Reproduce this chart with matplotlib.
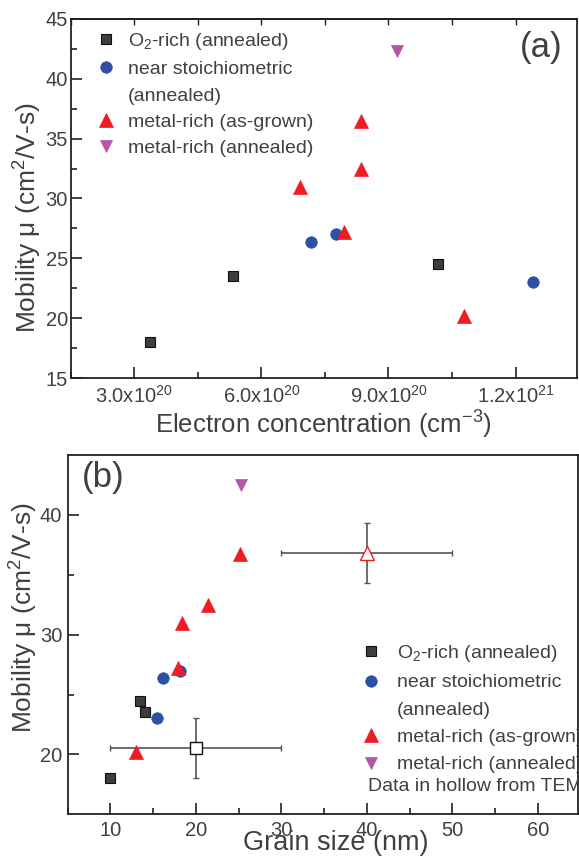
import matplotlib
matplotlib.use('Agg')
import matplotlib.pyplot as plt
from matplotlib.lines import Line2D
from matplotlib.ticker import FixedLocator, MultipleLocator, FixedFormatter
import numpy as np

# ---------------- data ----------------
# panel (a): mobility vs electron concentration
a_o2_x = [3.37e20, 5.33e20, 10.18e20]
a_o2_y = [18.0, 23.5, 24.5]
a_ns_x = [7.16e20, 7.76e20, 12.4e20]
a_ns_y = [26.4, 27.0, 23.0]
a_mr_x = [6.92e20, 8.35e20, 8.35e20, 7.96e20, 10.79e20]
a_mr_y = [31.0, 36.5, 32.5, 27.2, 20.2]
a_mra_x = [9.2e20]
a_mra_y = [42.3]
a_xticks = [3.0e20, 6.0e20, 9.0e20, 1.2e21]
a_xtick_labels = [r'3.0x10$^{20}$', r'6.0x10$^{20}$', r'9.0x10$^{20}$', r'1.2x10$^{21}$']

# panel (b): mobility vs grain size
b_o2_x = [9.9, 13.5, 14.0]
b_o2_y = [18.0, 24.5, 23.5]
b_ns_x = [16.2, 18.1, 15.5]
b_ns_y = [26.4, 27.0, 23.0]
b_mr_x = [13.0, 17.9, 18.4, 21.4, 25.1]
b_mr_y = [20.2, 27.2, 31.0, 32.5, 36.7]
b_mra_x = [25.3]
b_mra_y = [42.5]
# hollow (TEM) data with error bars
tem_sq_x, tem_sq_y, tem_sq_xerr, tem_sq_yerr = [20.0], [20.5], [10.0], [2.5]
tem_tri_x, tem_tri_y, tem_tri_xerr, tem_tri_yerr = [40.0], [36.8], [10.0], [2.5]

labels = ['O$_2$-rich (annealed)', 'near stoichiometric', '(annealed)',
          'metal-rich (as-grown)', 'metal-rich (annealed)']

# ---------------- style ----------------
plt.rcParams.update({
    'font.family': ['Liberation Sans', 'DejaVu Sans'],
    'mathtext.fontset': 'custom',
    'mathtext.rm': 'Liberation Sans',
    'mathtext.it': 'Liberation Sans:italic',
    'mathtext.bf': 'Liberation Sans:bold',
    'text.color': '#404040',
    'axes.labelcolor': '#404040',
    'axes.edgecolor': '#222222',
    'axes.linewidth': 1.3,
    'xtick.color': '#222222',
    'ytick.color': '#222222',
    'xtick.labelcolor': '#404040',
    'ytick.labelcolor': '#404040',
})

C_SQ = '#3d3d3d'
C_NS = '#2d4fa5'
C_MR = '#ee1c25'
C_MA = '#b456a8'

sq_kw = dict(marker='s', ms=7.3, mfc=C_SQ, mec='#111111', mew=0.8, ls='none')
ns_kw = dict(marker='o', ms=8.3, mfc=C_NS, mec=C_NS, mew=0.5, ls='none')
mr_kw = dict(marker='^', ms=9.8, mfc=C_MR, mec=C_MR, mew=0.5, ls='none')
ma_kw = dict(marker='v', ms=8.8, mfc=C_MA, mec=C_MA, mew=0.5, ls='none')

W, H = 579.0, 857.0
fig = plt.figure(figsize=(5.79, 8.57), dpi=100)
ax1 = fig.add_axes([70.7 / W, 1 - 378 / H, (577 - 70.7) / W, (378 - 19) / H])
ax2 = fig.add_axes([67.7 / W, 1 - 814.3 / H, (578 - 67.7) / W, (814.3 - 455) / H])

TICK_FS = 14.5
LEG_FS = 14

# ---------------- panel (a) ----------------
ax1.plot(a_o2_x, a_o2_y, **sq_kw)
ax1.plot(a_ns_x, a_ns_y, **ns_kw)
ax1.plot(a_mr_x, a_mr_y, **mr_kw)
ax1.plot(a_mra_x, a_mra_y, **ma_kw)
ax1.set_xlim(1.5e20, 1.345e21)
ax1.set_ylim(15, 45)
ax1.xaxis.set_major_locator(FixedLocator(a_xticks))
ax1.xaxis.set_major_formatter(FixedFormatter(a_xtick_labels))
ax1.xaxis.set_minor_locator(MultipleLocator(1.5e20))
ax1.yaxis.set_major_locator(MultipleLocator(5))
ax1.yaxis.set_minor_locator(MultipleLocator(2.5))
ax1.tick_params(which='major', direction='in', length=8, width=1.2, labelsize=TICK_FS)
ax1.tick_params(which='minor', direction='in', length=4, width=1.2)
ax1.tick_params(axis='x', which='both', pad=5)
ax1.tick_params(axis='y', which='both', right=False, pad=2)
sec = ax1.secondary_xaxis('top')
sec.xaxis.set_major_locator(MultipleLocator(1.5e20))
sec.xaxis.set_minor_locator(FixedLocator([]))
sec.tick_params(direction='in', length=4, width=1.0, labeltop=False)

ax1.set_xlabel('Electron concentration (cm$^{-3}$)', fontsize=18.5)
ax1.xaxis.set_label_coords(0.5, -0.086)
ax1.set_ylabel('Mobility μ (cm$^2$/V-s)', fontsize=19)
ax1.yaxis.set_label_coords(-0.052, 0.446)
ax1.text(0.930, 0.922, '(a)', transform=ax1.transAxes, fontsize=25,
         ha='center', va='center', color='#404040')

h_sq = Line2D([], [], **sq_kw)
h_ns = Line2D([], [], **ns_kw)
h_blank = Line2D([], [], ls='none', marker='none')
h_mr = Line2D([], [], **mr_kw)
h_ma = Line2D([], [], **ma_kw)
handles = [h_sq, h_ns, h_blank, h_mr, h_ma]

ax1.legend(handles, labels, loc='upper left', bbox_to_anchor=(0.0508, 0.967),
           frameon=False, fontsize=LEG_FS, handlelength=1.0, handletextpad=0.63,
           borderpad=0, borderaxespad=0, labelspacing=0.45, labelcolor='#404040')

# ---------------- panel (b) ----------------
ax2.errorbar(tem_sq_x, tem_sq_y, xerr=tem_sq_xerr, yerr=tem_sq_yerr, fmt='none',
             ecolor='#555555', elinewidth=1.2, capsize=2.5, capthick=1.0, zorder=2)
ax2.plot(tem_sq_x, tem_sq_y, marker='s', ms=8, mfc='white', mec='#111111', mew=1.0,
         ls='none', zorder=3)
ax2.errorbar(tem_tri_x, tem_tri_y, xerr=tem_tri_xerr, yerr=tem_tri_yerr, fmt='none',
             ecolor='#555555', elinewidth=1.2, capsize=2.5, capthick=1.0, zorder=2)
ax2.plot(tem_tri_x, tem_tri_y, marker='^', ms=10, mfc='white', mec=C_MR, mew=1.0,
         ls='none', zorder=3)
ax2.plot(b_o2_x, b_o2_y, **sq_kw)
ax2.plot(b_ns_x, b_ns_y, **ns_kw)
ax2.plot(b_mr_x, b_mr_y, **mr_kw)
ax2.plot(b_mra_x, b_mra_y, **ma_kw)
ax2.set_xlim(5, 64.7)
ax2.set_ylim(15, 45)
ax2.xaxis.set_major_locator(MultipleLocator(10))
ax2.xaxis.set_minor_locator(MultipleLocator(5))
ax2.set_yticks([20, 30, 40])
ax2.yaxis.set_minor_locator(FixedLocator([25, 35]))
ax2.tick_params(which='major', direction='in', length=8, width=1.2, labelsize=TICK_FS)
ax2.tick_params(which='minor', direction='in', length=4, width=1.2)
ax2.tick_params(axis='y', which='both', right=False, pad=4)
ax2.tick_params(axis='x', which='both', top=False, pad=5)

ax2.set_xlabel('Grain size (nm)', fontsize=19.5)
ax2.xaxis.set_label_coords(0.525, -0.044)
ax2.set_ylabel('Mobility μ (cm$^2$/V-s)', fontsize=19)
ax2.yaxis.set_label_coords(-0.054, 0.546)
ax2.text(0.070, 0.937, '(b)', transform=ax2.transAxes, fontsize=25,
         ha='center', va='center', color='#404040')

ax2.legend(handles, labels, loc='upper left', bbox_to_anchor=(0.5748, 0.4768),
           frameon=False, fontsize=LEG_FS, handlelength=1.0, handletextpad=0.83,
           borderpad=0, borderaxespad=0, labelspacing=0.5, labelcolor='#404040')
ax2.text(0.588, 0.076, 'Data in hollow from TEM', transform=ax2.transAxes,
         fontsize=14, ha='left', va='center', color='#404040')

fig.savefig('out.png', dpi=100)
